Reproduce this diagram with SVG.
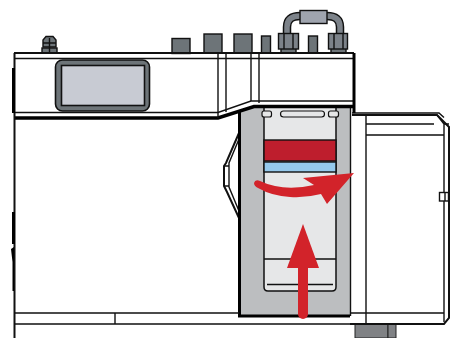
<svg xmlns="http://www.w3.org/2000/svg" width="451" height="338" viewBox="0 0 451 338">
<style>
.l{fill:none;stroke:#111;stroke-width:1.4}
.m{fill:none;stroke:#111;stroke-width:2}
.k{fill:#6d7478;stroke:#111;stroke-width:1.4}
.r{fill:#d2232a}
</style>
<rect width="451" height="338" fill="#fff"/>
<g id="feet">
<rect x="355" y="324" width="33" height="14" fill="#808285" stroke="#222" stroke-width="1"/>
<rect x="388" y="324" width="8" height="14" fill="#808285" stroke="#222" stroke-width="1"/>
</g>
<g id="knobs">
<rect class="k" x="172" y="38.500" width="18" height="15"/>
<rect class="k" x="204" y="34" width="18" height="19"/>
<rect class="k" x="234" y="34" width="18" height="19"/>
<rect class="k" x="261.500" y="36" width="9" height="17"/>
<rect class="k" x="308.500" y="36" width="9" height="17"/>
</g>
<g id="bolt">
<rect class="k" x="42" y="48" width="15" height="5"/>
<path class="k" d="M43 47V40L46 36.500H53L56 40V47Z"/>
<path class="l" d="M43 43H56M49.500 38V53" stroke-width="1"/>
</g>
<g id="hose">
<path d="M287 34V27Q287 16 300 16H327Q340 16 340 27V34" fill="none" stroke="#111" stroke-width="8.500"/>
<path d="M287 34V27Q287 16 300 16H327Q340 16 340 27V34" fill="none" stroke="#7c8289" stroke-width="5.500"/>
<rect x="300" y="10.500" width="27" height="13" fill="#9fa4ae" stroke="#111" stroke-width="1.400"/>
<rect class="k" x="281" y="48" width="15" height="5"/>
<rect class="k" x="331" y="48" width="15" height="5"/>
<rect x="278.500" y="33.500" width="20" height="15.500" fill="#7c8289" stroke="#111" stroke-width="1.400"/>
<rect x="328.500" y="33.500" width="19" height="15.500" fill="#7c8289" stroke="#111" stroke-width="1.400"/>
<path class="l" d="M284 33.500V49M293 33.500V49M334 33.500V49M343 33.500V49"/>
</g>
<g id="right-box">
<path d="M350 114H437L450 126V319L445 324H350Z" fill="#fff"/>
<path class="m" d="M352 115H437L449 127V318L444 324H350"/>
<path class="l" d="M352 113H439L444 117.500M437 115 L444 124 L444 317 M444 124H449M366 115V324M366 124H434M366 135H444M350 313H444L444 322"/>
<rect x="439.500" y="192.500" width="9" height="8.500" fill="#fff" stroke="#111" stroke-width="1.400"/>
<path class="l" d="M445 192V201"/>
</g>
<g id="side-bulge">
<path d="M239 133L226 163L224 166V186L227 192L239 218Z" fill="#fff" class="m"/>
<path class="l" d="M239 139L229 163V187L239 211M224 166H229M224 186H229"/>
</g>
<g id="panel">
<path d="M239 110L258 105H350V316H239Z" fill="#bcbec0"/>
<path d="M239.500 110V316H350" fill="none" stroke="#000" stroke-width="3"/>
<path class="l" d="M350.500 108V316"/>
<path d="M264 107V287Q264 291 268 291H332Q336 291 336 287V107Z" fill="#e6e7e8" stroke="#111" stroke-width="1.500"/>
<path class="l" d="M264 259H336"/>
<path class="l" d="M267 284.500H333" stroke-width="1"/>
<rect x="264" y="140" width="72" height="21" fill="#be1e2d" stroke="#111" stroke-width="1.400"/>
<rect x="264" y="162" width="72" height="10" fill="#95c9ec" stroke="#111" stroke-width="1.400"/>
<rect x="262" y="111" width="9.500" height="6" rx="2" fill="#e6e7e8" stroke="#111" stroke-width="1.200"/>
<rect x="280.500" y="111" width="44" height="6" rx="3" fill="#e6e7e8" stroke="#111" stroke-width="1.200"/>
<rect x="328.500" y="111" width="10" height="6" rx="2" fill="#e6e7e8" stroke="#111" stroke-width="1.200"/>
</g>
<g id="body">
<path class="m" d="M14 53H354"/>
<path class="l" d="M14 58.500H354M14 112.500H218L251 101H354"/>
<path d="M14 118H218L254 106.500H354" fill="none" stroke="#000" stroke-width="3.500"/>
<path class="m" d="M14.500 53V338"/>
<path d="M13.500 68V113M13.500 212V244" fill="none" stroke="#000" stroke-width="3"/>
<path d="M11 249L14 247L14 291L12.500 291L12.500 262Z" fill="#000"/>
<path class="l" d="M218 53V118M226 53V112M251 53V101M259 53V103"/>
<path d="M354 53V113" fill="none" stroke="#000" stroke-width="3"/>
<path class="l" d="M14 313H239M14 324H350M115 313V324"/>
</g>
<g id="screen">
<rect x="55.500" y="60" width="94" height="51" rx="7" fill="#6d7478" stroke="#111" stroke-width="1.600"/>
<rect x="61.500" y="65.500" width="83" height="40" fill="#c8cbd3" stroke="#111" stroke-width="1.600"/>
</g>
<g id="connectors">
<path class="r" d="M354 173L303 178L314 185Q292 190 275 186Q266 184 260 181Q255 179 254 183Q254 186 258 188Q272 196 290 197Q306 198 321 194L327 204Z"/>
<path d="M303 266V314" fill="none" stroke="#d2232a" stroke-width="10" stroke-linecap="round"/>
<path class="r" d="M303 224L319 268H287Z"/>
</g>
</svg>
